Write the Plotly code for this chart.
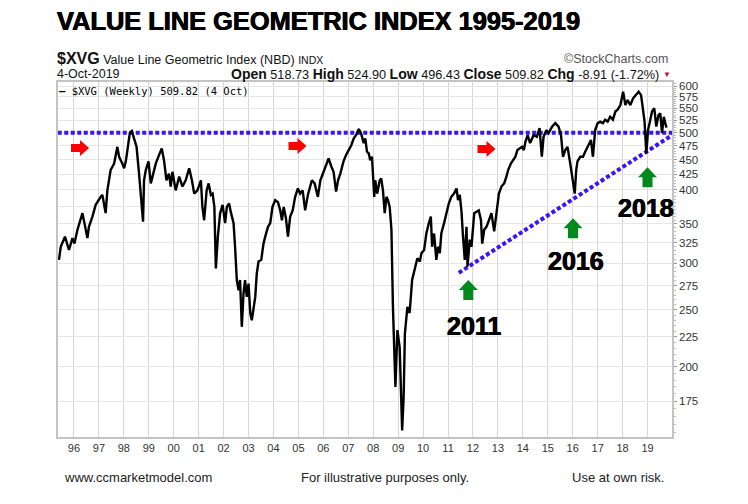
import plotly.graph_objects as go

# ---------------- data ----------------
years = [
    1995.40, 1995.47, 1995.64, 1995.80, 1995.94, 1996.02, 1996.14, 1996.34, 1996.54, 1996.60,
    1996.74, 1996.87, 1997.07, 1997.14, 1997.27, 1997.34, 1997.47, 1997.61, 1997.74, 1997.81,
    1997.94, 1998.01, 1998.08, 1998.24, 1998.32, 1998.41, 1998.51, 1998.61, 1998.68, 1998.72,
    1998.77, 1998.81, 1998.88, 1998.99, 1999.08, 1999.15, 1999.28, 1999.41, 1999.52, 1999.61,
    1999.71, 1999.81, 1999.88, 1999.95, 2000.08, 2000.22, 2000.35, 2000.48, 2000.62, 2000.73,
    2000.82, 2000.95, 2001.09, 2001.15, 2001.22, 2001.32, 2001.40, 2001.49, 2001.56, 2001.63,
    2001.69, 2001.77, 2001.86, 2001.96, 2002.06, 2002.13, 2002.22, 2002.30, 2002.40, 2002.46,
    2002.53, 2002.60, 2002.66, 2002.73, 2002.80, 2002.86, 2002.93, 2003.00, 2003.07, 2003.13,
    2003.20, 2003.27, 2003.33, 2003.40, 2003.51, 2003.60, 2003.67, 2003.78, 2003.87, 2003.96,
    2004.07, 2004.18, 2004.27, 2004.34, 2004.41, 2004.50, 2004.58, 2004.67, 2004.77, 2004.87,
    2004.98, 2005.07, 2005.17, 2005.27, 2005.38, 2005.47, 2005.54, 2005.65, 2005.78, 2005.88,
    2006.01, 2006.14, 2006.21, 2006.32, 2006.41, 2006.51, 2006.59, 2006.68, 2006.81, 2006.91,
    2007.02, 2007.12, 2007.22, 2007.31, 2007.42, 2007.51, 2007.62, 2007.68, 2007.75, 2007.82,
    2007.88, 2007.95, 2008.04, 2008.08, 2008.16, 2008.26, 2008.32, 2008.39, 2008.46, 2008.53,
    2008.59, 2008.66, 2008.73, 2008.79, 2008.89, 2008.97, 2009.06, 2009.16, 2009.22, 2009.27,
    2009.37, 2009.46, 2009.56, 2009.67, 2009.77, 2009.87, 2009.93, 2010.04, 2010.13, 2010.23,
    2010.31, 2010.36, 2010.44, 2010.53, 2010.60, 2010.67, 2010.73, 2010.84, 2010.93, 2011.03,
    2011.13, 2011.24, 2011.34, 2011.40, 2011.47, 2011.54, 2011.60, 2011.67, 2011.74, 2011.78,
    2011.87, 2011.94, 2012.05, 2012.14, 2012.23, 2012.32, 2012.37, 2012.45, 2012.54, 2012.64,
    2012.74, 2012.85, 2012.94, 2013.04, 2013.14, 2013.25, 2013.34, 2013.41, 2013.52, 2013.61,
    2013.70, 2013.78, 2013.88, 2013.97, 2014.04, 2014.10, 2014.19, 2014.29, 2014.43, 2014.56,
    2014.67, 2014.76, 2014.83, 2014.94, 2015.03, 2015.17, 2015.30, 2015.43, 2015.53, 2015.61,
    2015.70, 2015.79, 2015.90, 2015.97, 2016.08, 2016.14, 2016.19, 2016.30, 2016.41, 2016.50,
    2016.63, 2016.73, 2016.81, 2016.90, 2017.00, 2017.10, 2017.21, 2017.30, 2017.40, 2017.50,
    2017.61, 2017.71, 2017.80, 2017.91, 2018.02, 2018.11, 2018.20, 2018.31, 2018.42, 2018.51,
    2018.64, 2018.74, 2018.82, 2018.88, 2018.95, 2019.02, 2019.11, 2019.18, 2019.27, 2019.35,
    2019.44, 2019.51, 2019.58, 2019.65, 2019.71, 2019.76,
]
values = [
    304, 320, 333, 316, 331, 324, 342, 365, 331, 346,
    360, 377, 389, 392, 365, 399, 432, 443, 473, 455,
    443, 435, 447, 499, 503, 486, 473, 426, 389, 379,
    353, 415, 432, 447, 410, 421, 443, 458, 470, 449,
    415, 426, 405, 429, 399, 421, 405, 415, 435, 415,
    394, 399, 415, 374, 355, 399, 410, 392, 394, 374,
    294, 333, 365, 377, 351, 374, 379, 365, 351, 320,
    281, 270, 281, 234, 267, 281, 263, 277, 247, 240,
    250, 263, 288, 302, 304, 324, 333, 346, 351, 374,
    384, 381, 369, 355, 374, 358, 333, 360, 369, 389,
    402, 394, 399, 369, 392, 405, 415, 410, 389, 415,
    429, 443, 452, 438, 429, 397, 415, 426, 447, 458,
    467, 476, 489, 495, 507, 499, 480, 489, 464, 461,
    449, 455, 389, 415, 394, 415, 418, 399, 365, 389,
    384, 374, 342, 253, 185, 231, 216, 156, 178, 228,
    253, 247, 281, 296, 306, 302, 312, 316, 337, 351,
    360, 320, 337, 304, 320, 312, 337, 351, 365, 379,
    389, 394, 402, 384, 392, 367, 333, 304, 346, 296,
    329, 320, 365, 367, 369, 355, 324, 342, 346, 355,
    365, 340, 365, 394, 405, 410, 421, 432, 443, 449,
    455, 467, 470, 473, 467, 482, 495, 480, 495, 492,
    509, 455, 492, 505, 499, 512, 519, 512, 495, 455,
    467, 473, 443, 426, 394, 432, 447, 455, 455, 464,
    476, 486, 455, 505, 519, 522, 519, 526, 522, 532,
    526, 543, 547, 557, 587, 557, 568, 557, 572, 579,
    587, 579, 539, 522, 461, 505, 526, 543, 550, 512,
    536, 539, 499, 532, 519, 509.82,
]

resistance_level = 500
trend_years = [2011.43, 2019.98]
trend_values = [289, 495]

x_tick_years = list(range(1996, 2020))
x_tick_labels = ["96", "97", "98", "99", "00", "01", "02", "03", "04", "05", "06", "07",
                 "08", "09", "10", "11", "12", "13", "14", "15", "16", "17", "18", "19"]
y_tick_values = [175, 200, 225, 250, 275, 300, 325, 350, 375, 400, 425, 450, 475, 500,
                 525, 550, 575, 600]
y_tick_labels = ["175", "200", "225", "250", "275", "300", "325", "350", "", "400", "425",
                 "450", "475", "500", "525", "550", "575", "600"]

title_text = "VALUE LINE GEOMETRIC INDEX 1995-2019"
callout_labels = ["2011", "2016", "2018"]

# ---------------- layout helpers ----------------
W, H = 748, 504          # browser window
OFF = 8                  # default page body margin
L, R, T, B = 58, 672, 82, 437   # plot area in window pixels


def px(x):
    return (x - L) / (R - L)


def py(y):
    return (B - y) / (B - T)


FONT = "Liberation Sans, Arial, sans-serif"
MONO = "DejaVu Sans Mono, Liberation Mono, monospace"
BLUE = "rgb(58,18,255)"
HEAVY = "0.5px 0px 0px black, -0.4px 0px 0px black"

fig = go.Figure()

fig.add_trace(go.Scatter(
    x=[years[0] - 0.05, 2019.99], y=[resistance_level, resistance_level],
    mode="lines", line=dict(color=BLUE, width=4, dash="4px,2.5px"),
    hoverinfo="skip", showlegend=False))
fig.add_trace(go.Scatter(
    x=trend_years, y=trend_values, mode="lines",
    line=dict(color=BLUE, width=4, dash="4px,2.5px"),
    hoverinfo="skip", showlegend=False))
fig.add_trace(go.Scatter(
    x=years, y=values, mode="lines", line=dict(color="black", width=2.4),
    name="$XVG", showlegend=False))

ann = []
ann.append(dict(text="<b>" + title_text + "</b>", x=px(55), y=py(21), xanchor="left",
                yanchor="middle",
                font=dict(size=25.4, family=FONT, color="black", shadow=HEAVY)))
ann.append(dict(
    text="<span style='font-size:16px'><b>$XVG</b></span> Value Line Geometric Index (NBD) "
         "<span style='font-size:10.5px'>INDX</span>",
    x=px(55), y=py(58), xanchor="left", yanchor="middle",
    font=dict(size=12.5, family=FONT, color="#111")))
ann.append(dict(text="©StockCharts.com", x=px(670), y=py(59), xanchor="right",
                yanchor="middle", font=dict(size=12.5, family=FONT, color="#555")))
ann.append(dict(text="4-Oct-2019", x=px(55), y=py(74), xanchor="left", yanchor="middle",
                font=dict(size=12.5, family=FONT, color="#111")))
B14 = "<span style='font-size:14px'><b>%s</b></span>"
ohlc = (B14 % "Open" + " 518.73 " + B14 % "High" + " 524.90 " + B14 % "Low" +
        " 496.43 " + B14 % "Close" + " 509.82 " + B14 % "Chg" + " -8.91 (-1.72%)")
ann.append(dict(text=ohlc, x=px(661), y=py(74), xanchor="right", yanchor="middle",
                font=dict(size=12.7, family=FONT, color="#111")))
ann.append(dict(text="▼", x=px(667), y=py(74), xanchor="center", yanchor="middle",
                font=dict(size=8, family=FONT, color="#c0103a")))
ann.append(dict(text="<b>—</b> $XVG (Weekly) 509.82 (4 Oct)", x=px(57), y=py(91),
                xanchor="left", yanchor="middle",
                font=dict(size=10.5, family=MONO, color="#000")))

# footer
ann.append(dict(text="www.ccmarketmodel.com", x=px(62), y=py(477), xanchor="left",
                yanchor="middle", font=dict(size=13, family=FONT, color="#222")))
ann.append(dict(text="For illustrative purposes only.", x=px(385), y=py(477),
                xanchor="center", yanchor="middle", font=dict(size=13, family=FONT, color="#222")))
ann.append(dict(text="Use at own risk.", x=px(666), y=py(477), xanchor="right",
                yanchor="middle", font=dict(size=13, family=FONT, color="#222")))

# callout year labels
label_pos = [(474, 326), (575.5, 261), (646, 207.5)]
for txt, (cx, cy) in zip(callout_labels, label_pos):
    ann.append(dict(text="<b>" + txt + "</b>", x=px(cx), y=py(cy), xanchor="center",
                    yanchor="middle",
                    font=dict(size=25, family=FONT, color="black", shadow=HEAVY)))

for a in ann:
    a.update(xref="paper", yref="paper", showarrow=False)

shapes = []
red_path = "M -9,-4 L 0,-4 L 0,-8 L 9,0 L 0,8 L 0,4 L -9,4 Z"
green_path = "M -5,-10 L 5,-10 L 5,0 L 9.5,0 L 0,10 L -9.5,0 L -5,0 Z"
for cx, cy in [(80, 148), (297.5, 146), (486.5, 149)]:
    shapes.append(dict(type="path", path=red_path, xref="paper", yref="paper",
                       xsizemode="pixel", ysizemode="pixel", xanchor=px(cx), yanchor=py(cy),
                       fillcolor="#ff0000", line=dict(width=0)))
for cx, cy in [(468.3, 290), (573, 228.3), (647.5, 177.3)]:
    shapes.append(dict(type="path", path=green_path, xref="paper", yref="paper",
                       xsizemode="pixel", ysizemode="pixel", xanchor=px(cx), yanchor=py(cy),
                       fillcolor="#008a1e", line=dict(width=0)))

fig.update_layout(
    width=W - OFF, height=H - OFF, autosize=False,
    margin=dict(l=L - OFF, r=W - R, t=T - OFF, b=H - B, pad=0),
    paper_bgcolor="white", plot_bgcolor="white",
    showlegend=False,
    annotations=ann, shapes=shapes,
    xaxis=dict(
        range=[1995.36, 2019.98], tickmode="array", tickvals=x_tick_years,
        ticktext=x_tick_labels, showgrid=True, gridcolor="#d6d6d6", gridwidth=1,
        showline=True, linecolor="#c4c4c4", linewidth=1.5, mirror=True,
        ticks="", tickfont=dict(size=11, family=FONT, color="#333"), zeroline=False,
    ),
    yaxis=dict(
        type="log", side="right", range=[2.1821, 2.7850],
        tickmode="array", tickvals=y_tick_values, ticktext=y_tick_labels,
        showgrid=True, gridcolor="#e6e6e6", gridwidth=1,
        showline=True, linecolor="#c4c4c4", linewidth=1.5, mirror=True,
        ticks="outside", ticklen=3, tickcolor="#999",
        tickfont=dict(size=11.5, family=FONT, color="#333"), zeroline=False,
        minor=dict(tickmode="array", tickvals=list(range(155, 610, 5)), ticks="outside",
                   ticklen=2, tickcolor="#bbb", showgrid=False),
    ),
)

fig.write_html("out.html")
